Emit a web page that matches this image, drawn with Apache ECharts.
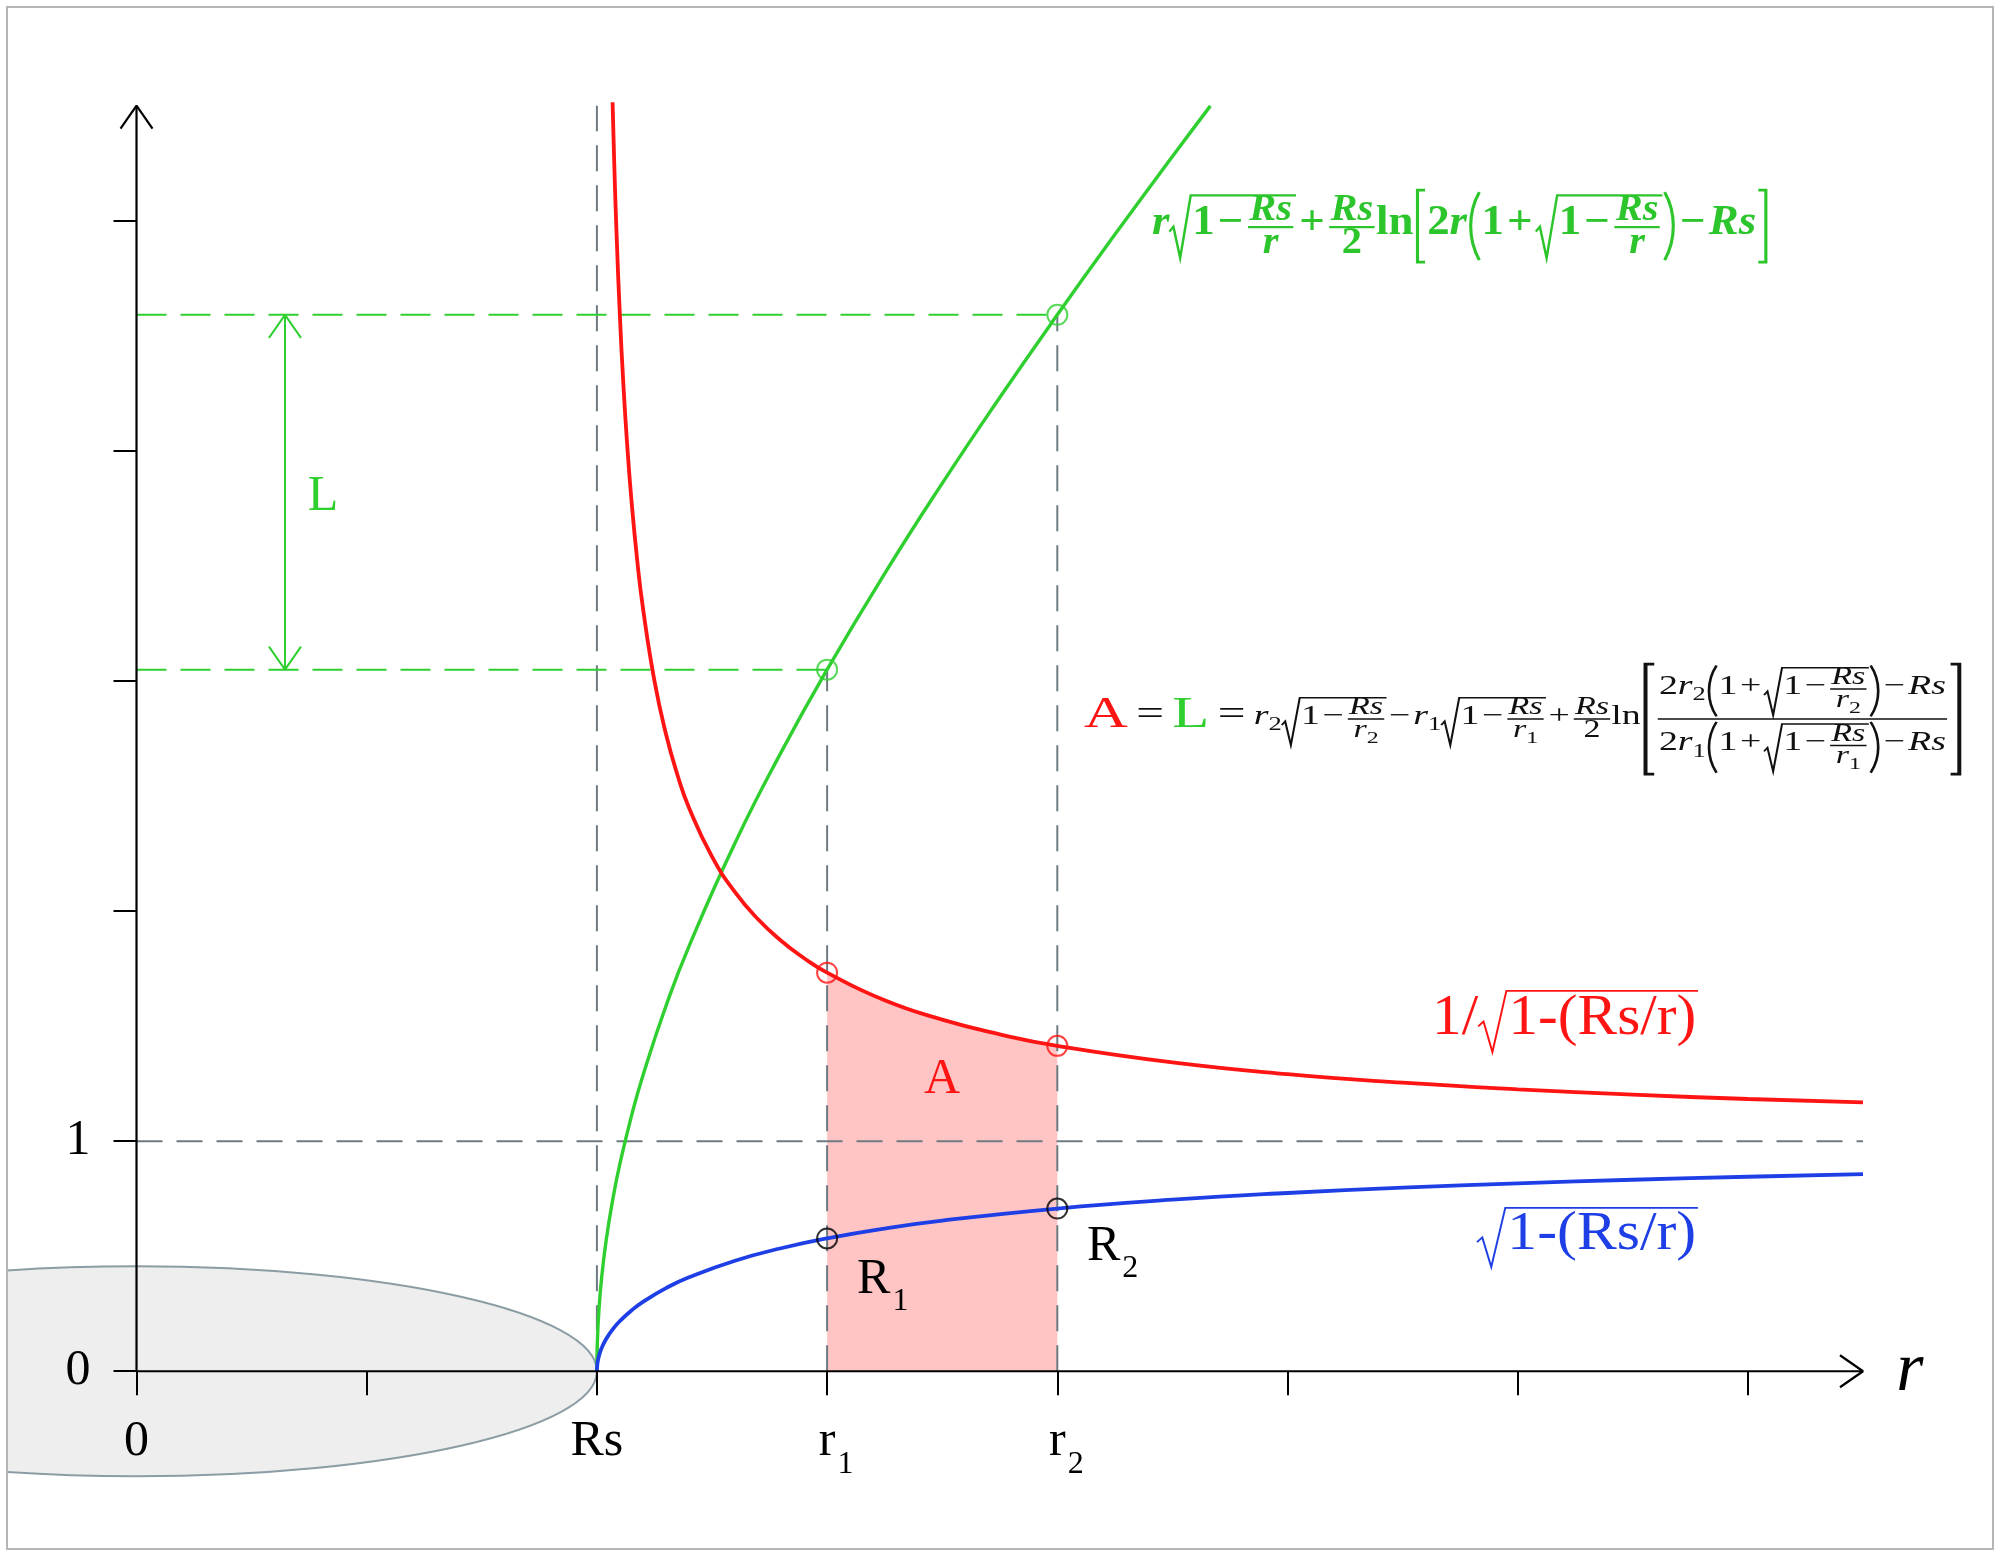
<!DOCTYPE html>
<html><head><meta charset="utf-8"><title>Schwarzschild length</title>
<script src="https://cdn.jsdelivr.net/npm/echarts@6.0.0/dist/echarts.min.js"></script>
<style>html,body{margin:0;padding:0;background:#fff;}#chart{width:2000px;height:1557px;}</style>
</head><body><div id="chart"></div>
<script>
// ---------------- data ----------------
const xTickValues = [0, 1, 2, 3, 4, 5, 6, 7];
const yTickValues = [0, 1, 2, 3, 4, 5];
const xLabelValues = [0, 2, 3, 4];
const xTickLabels = ['0', 'Rs', 'r1', 'r2'];
const yLabelValues = [0, 1];
const yTickLabels = ['0', '1'];

// red curve 1/sqrt(1-Rs/r)
const redR = [2.068,2.075,2.085,2.1,2.115,2.13,2.15,2.175,2.2,2.25,2.3,2.35,2.4,2.5,2.6,2.7,2.8,2.9,3.0,3.25,3.5,3.75,4.0,4.5,5.0,5.5,6.0,6.5,7.0,7.5];
const redY = [5.515,5.260,4.953,4.583,4.289,4.048,3.786,3.525,3.317,3.0,2.769,2.591,2.449,2.236,2.082,1.964,1.871,1.795,1.732,1.612,1.528,1.464,1.414,1.342,1.291,1.254,1.225,1.202,1.183,1.168];
// blue curve sqrt(1-Rs/r)
const blueR = [2.0,2.002,2.008,2.02,2.04,2.07,2.1,2.15,2.2,2.3,2.4,2.6,2.8,3.0,3.25,3.5,4.0,4.5,5.0,5.5,6.0,6.5,7.0,7.5];
const blueY = [0,0.0316,0.0631,0.0995,0.140,0.1839,0.2182,0.2641,0.3015,0.3612,0.4082,0.4804,0.5345,0.5774,0.6202,0.6547,0.7071,0.7454,0.7746,0.7977,0.8165,0.8321,0.8452,0.8563];
// green curve (length)
const greenR = [2.0,2.002,2.008,2.02,2.04,2.07,2.1,2.15,2.2,2.3,2.4,2.6,2.8,3.0,3.25,3.5,3.75,4.0,4.25,4.5,4.665];
const greenY = [0,0.1266,0.2531,0.4007,0.5675,0.7528,0.9017,1.1088,1.2857,1.5873,1.8467,2.2960,2.6895,3.0491,3.4663,3.8584,4.2316,4.5911,4.9395,5.2789,5.499];
// shaded area A between r1 and r2 under the red curve
const areaR = [3.0,3.1,3.2,3.3,3.4,3.5,3.6,3.7,3.8,3.9,4.0];
const areaY = [1.732,1.679,1.633,1.593,1.558,1.528,1.5,1.475,1.453,1.433,1.414];
// marked points at r1, r2
const markR = [3, 4];
const greenMarkY = [3.049, 4.591];
const redMarkY = [1.732, 1.414];
const blueMarkY = [0.577, 0.707];
// guides
const rsValue = 2;
const unitLevel = 1;
const axisEndX = 7.5;
const axisEndY = 5.5;
const lArrowX = 0.645;
// gray body: centre r, centre y, half-width, half-height
const bodyEllipse = [0, 0, 2, 0.456];

// ---------------- styles ----------------
const GREEN = '#2fcf2f', RED = '#ff1414', BLUE = '#1f3fe6', PINK = '#ffc4c4', GRAY = '#6f7b82';
const SERIF = '"Liberation Serif","Times New Roman",serif';

const chart = echarts.init(document.getElementById('chart'), null, {width: 2000, height: 1557});

function pts(xs, ys) { return xs.map((x, i) => [x, ys[i]]); }
function line(data, color, width, dash, z, smooth) {
  const s = {type: 'line', data: data, symbol: 'none', silent: true, z: z, clip: false,
    lineStyle: {color: color, width: width, type: dash || 'solid', cap: 'butt'}, emphasis: {disabled: true}};
  if (smooth) { s.smooth = 0.5; }
  return s;
}
const AB = 0.1, AP = 0.0695; // arrow head back / half-width in data units

const series = [
  { type: 'custom', data: [bodyEllipse], clip: true, z: 1, silent: true,
    renderItem: function (params, api) {
      const c = api.coord([api.value(0), api.value(1)]);
      const s = api.size([api.value(2), api.value(3)]);
      return {type: 'ellipse', shape: {cx: c[0], cy: c[1], rx: s[0], ry: s[1]},
        style: {fill: '#eeeeee', stroke: '#8c9ca4', lineWidth: 2}};
    } },
  Object.assign(line(pts(areaR, areaY), PINK, 0, null, 2, true), {areaStyle: {color: PINK, opacity: 1}}),
  // gray dashed guides
  line([[rsValue, 0], [rsValue, axisEndY]], GRAY, 2, [26, 14], 3),
  line([[0, unitLevel], [axisEndX, unitLevel]], GRAY, 2, [26, 14], 3),
  line([[markR[0], 0], [markR[0], greenMarkY[0]]], GRAY, 2, [26, 14], 3),
  line([[markR[1], 0], [markR[1], greenMarkY[1]]], GRAY, 2, [26, 14], 3),
  // green dashed guides
  line([[0, greenMarkY[0]], [markR[0], greenMarkY[0]]], GREEN, 2, [30, 14], 3),
  line([[0, greenMarkY[1]], [markR[1], greenMarkY[1]]], GREEN, 2, [30, 14], 3),
  // L double arrow
  line([[lArrowX, greenMarkY[0]], [lArrowX, greenMarkY[1]]], GREEN, 2, null, 3),
  line([[lArrowX - AP, greenMarkY[1] - AB], [lArrowX, greenMarkY[1]], [lArrowX + AP, greenMarkY[1] - AB]], GREEN, 2, null, 3),
  line([[lArrowX - AP, greenMarkY[0] + AB], [lArrowX, greenMarkY[0]], [lArrowX + AP, greenMarkY[0] + AB]], GREEN, 2, null, 3),
  // curves
  line(pts(greenR, greenY), GREEN, 3.4, null, 4, true),
  line(pts(redR, redY), RED, 3.8, null, 4, true),
  line(pts(blueR, blueY), BLUE, 3.8, null, 4, true),
  // axes
  line([[0, 0], [axisEndX, 0]], '#000', 2.2, null, 5),
  line([[0, 0], [0, axisEndY]], '#000', 2.2, null, 5),
  line([[axisEndX - AB, AP], [axisEndX, 0], [axisEndX - AB, -AP]], '#000', 2.2, null, 5),
  line([[-AP, axisEndY - AB], [0, axisEndY], [AP, axisEndY - AB]], '#000', 2.2, null, 5),
  // marker circles
  { type: 'scatter', data: pts(markR, greenMarkY), symbol: 'circle', symbolSize: 20, z: 6, silent: true,
    itemStyle: {color: 'rgba(0,0,0,0)', borderColor: GREEN, borderWidth: 2} },
  { type: 'scatter', data: pts(markR, redMarkY), symbol: 'circle', symbolSize: 20, z: 6, silent: true,
    itemStyle: {color: 'rgba(0,0,0,0)', borderColor: RED, borderWidth: 2} },
  { type: 'scatter', data: pts(markR, blueMarkY), symbol: 'circle', symbolSize: 20, z: 6, silent: true,
    itemStyle: {color: 'rgba(0,0,0,0)', borderColor: '#000', borderWidth: 2} }
];

const option = {
  animation: false,
  backgroundColor: '#ffffff',
  grid: {left: 7.6, top: 13.6, width: 1970.5, height: 1495.7, containLabel: false, outerBoundsMode: 'none'},
  xAxis: {
    type: 'value', min: -0.56, max: 8.0, z: 10,
    axisLine: {show: true, onZero: true, lineStyle: {color: 'rgba(0,0,0,0)'}},
    axisTick: {show: true, customValues: xTickValues, length: 24, lineStyle: {color: '#000', width: 2}},
    axisLabel: {show: false},
    splitLine: {show: false}
  },
  yAxis: {
    type: 'value', min: -0.6, max: 5.9, z: 10,
    axisLine: {show: true, onZero: true, lineStyle: {color: 'rgba(0,0,0,0)'}},
    axisTick: {show: true, customValues: yTickValues, length: 23, lineStyle: {color: '#000', width: 2}},
    axisLabel: {show: false},
    splitLine: {show: false}
  },
  series: series
};
chart.setOption(option);

// ---------------- tiny math layout for the formulas ----------------
const mctx = document.createElement('canvas').getContext('2d');
function measureW(text, font) { mctx.font = font; return mctx.measureText(text).width; }
function T(s, o) { return Object.assign({k: 't', s: s}, o || {}); }
function SB(base, sub) { return {k: 'sb', base: base, sub: sub}; }
function FR(num, den, sc) { return {k: 'fr', num: num, den: den, sc: sc == null ? 0.9 : sc}; }
function SQ(body, o) { return Object.assign({k: 'sq', body: body}, o || {}); }
function DL(l, r, body, o) { return Object.assign({k: 'dl', l: l, r: r, body: body}, o || {}); }
function SP(w) { return {k: 'sp', w: w}; }

let WEIGHT = '';
function lay(node, fs, col) {
  if (Array.isArray(node)) {
    const items = node.map(n => lay(n, fs, col));
    let w = 0, a = 0, d = 0;
    items.forEach(b => { w += b.w; a = Math.max(a, b.a); d = Math.max(d, b.d); });
    return {w, a, d, draw(x, ay, out) { let cx = x; items.forEach(b => { b.draw(cx, ay, out); cx += b.w; }); }};
  }
  if (node.k === 't') {
    const f = fs * (node.sc || 1);
    const font = (node.it ? 'italic ' : '') + (node.wt != null ? node.wt : WEIGHT) + ' ' + f + 'px ' + SERIF;
    const pad = (node.pad || 0) * f;
    const w = measureW(node.s, font) + 2 * pad;
    const c = node.col || col;
    return {w, a: (node.a != null ? node.a : 0.43) * f, d: (node.d != null ? node.d : 0.25) * f,
      draw(x, ay, out) {
        out.push({type: 'text', x: x + pad, y: ay - 0.09 * f, silent: true,
          style: {text: node.s, font: font, fill: c, align: 'left', verticalAlign: 'middle'}});
      }};
  }
  if (node.k === 'sp') return {w: node.w * fs, a: 0, d: 0, draw() {}};
  if (node.k === 'sb') {
    const b = lay(node.base, fs, col), s = lay(node.sub, fs * 0.7, col), sh = 0.28 * fs;
    return {w: b.w + s.w, a: Math.max(b.a, s.a - sh), d: Math.max(b.d, s.d + sh),
      draw(x, ay, out) { b.draw(x, ay, out); s.draw(x + b.w, ay + sh, out); }};
  }
  if (node.k === 'fr') {
    const n = lay(node.num, fs * node.sc, col), dn = lay(node.den, fs * node.sc, col);
    const t = 0.055 * fs, g = 0.07 * fs, pad = 0.06 * fs;
    const w = Math.max(n.w, dn.w) + 2 * pad;
    return {w, a: t / 2 + g + n.d + n.a, d: t / 2 + g + dn.a + dn.d,
      draw(x, ay, out) {
        n.draw(x + (w - n.w) / 2, ay - t / 2 - g - n.d, out);
        dn.draw(x + (w - dn.w) / 2, ay + t / 2 + g + dn.a, out);
        out.push({type: 'rect', silent: true, shape: {x: x + pad * 0.5, y: ay - t / 2, width: w - pad, height: t}, style: {fill: col}});
      }};
  }
  if (node.k === 'sq') {
    const b = lay(node.body, fs, col);
    const R = 0.5 * fs, pt = 0.09 * fs, lw = (node.lw || 1) * 0.055 * fs;
    const a = b.a + pt, d = b.d + 0.04 * fs, w = R + b.w + 0.04 * fs;
    return {w, a, d, draw(x, ay, out) {
      const top = ay - a + lw / 2, bot = ay + d, H = bot - top;
      out.push({type: 'polyline', silent: true,
        shape: {points: [[x, bot - 0.42 * H], [x + 0.18 * R, bot - 0.5 * H], [x + 0.48 * R, bot], [x + 0.95 * R, top], [x + w, top]]},
        style: {stroke: col, lineWidth: lw, fill: null, lineJoin: 'miter'}});
      b.draw(x + R + 0.01 * fs, ay, out);
    }};
  }
  if (node.k === 'dl') {
    const b = lay(node.body, fs, col);
    const ext = 0.05 * fs, a = b.a + ext, d = b.d + ext, H = a + d;
    const isB = node.l === '[';
    const dw = (isB ? 0.22 : 0.24) * fs + 0.05 * H;
    const lw = (node.lw || 1) * 0.07 * fs;
    return {w: 2 * dw + b.w, a, d, draw(x, ay, out) {
      const top = ay - a, bot = ay + d;
      const st = {stroke: col, lineWidth: lw, fill: null};
      const xr = x + dw + b.w;
      if (isB) {
        out.push({type: 'polyline', silent: true, shape: {points: [[x + dw * 0.85, top], [x + dw * 0.3, top], [x + dw * 0.3, bot], [x + dw * 0.85, bot]]}, style: st});
        out.push({type: 'polyline', silent: true, shape: {points: [[xr + dw * 0.15, top], [xr + dw * 0.7, top], [xr + dw * 0.7, bot], [xr + dw * 0.15, bot]]}, style: st});
      } else {
        out.push({type: 'bezierCurve', silent: true, shape: {x1: x + dw * 0.85, y1: top, cpx1: x + dw * 0.05, cpy1: top + H * 0.3, cpx2: x + dw * 0.05, cpy2: bot - H * 0.3, x2: x + dw * 0.85, y2: bot}, style: st});
        out.push({type: 'bezierCurve', silent: true, shape: {x1: xr + dw * 0.15, y1: top, cpx1: xr + dw * 0.95, cpy1: top + H * 0.3, cpx2: xr + dw * 0.95, cpy2: bot - H * 0.3, x2: xr + dw * 0.15, y2: bot}, style: st});
      }
      b.draw(x + dw, ay, out);
    }};
  }
  return {w: 0, a: 0, d: 0, draw() {}};
}

function px(x, y) { return chart.convertToPixel({gridIndex: 0}, [x, y]); }
function fitGroup(nodes, fs, col, box, weight) {
  WEIGHT = weight || '';
  const p0 = px(box[0], box[1]), p1 = px(box[2], box[3]);
  const b = lay(nodes, fs, col), out = [];
  b.draw(0, b.a, out);
  return {type: 'group', x: p0[0], y: p0[1], z: 50, silent: true,
    scaleX: (p1[0] - p0[0]) / b.w, scaleY: (p1[1] - p0[1]) / (b.a + b.d), children: out};
}

const IT = {it: true};
const bin = s => T(s, {pad: 0.07});
const rsFrac = den => FR([T('Rs', IT)], den);
const rsub = n => SB(T('r', IT), T(n));
const sqrt1m = den => SQ([T('1'), bin('\u2212'), rsFrac(den)]);

const greenFormula = [T('r', IT), sqrt1m([T('r', IT)]), bin('+'), FR([T('Rs', IT)], [T('2')]), T('ln'),
  DL('[', ']', [T('2'), T('r', IT), DL('(', ')', [T('1'), bin('+'), sqrt1m([T('r', IT)])]), bin('\u2212'), T('Rs', IT)])];

const bigPart = n => [T('2'), rsub(n), DL('(', ')', [T('1'), bin('+'), sqrt1m([rsub(n)])]), bin('\u2212'), T('Rs', IT)];
const blackFormula = [T('A', {col: RED, sc: 1.6}), SP(0.22), T('=', {sc: 1.3}), SP(0.22), T('L', {col: GREEN, sc: 1.6}), SP(0.22), T('=', {sc: 1.3}), SP(0.22),
  rsub('2'), sqrt1m([rsub('2')]), bin('\u2212'), rsub('1'), sqrt1m([rsub('1')]), bin('+'), FR([T('Rs', IT)], [T('2')]), T('ln'),
  DL('[', ']', [FR(bigPart('2'), bigPart('1'), 1)], {lw: 1.5})];

const PT = {a: 0.5, d: 0.45};
const redLabel = [T('1'), T('/', PT), SQ([T('1-(Rs/r)', PT)], {lw: 0.6})];
const blueLabel = [SQ([T('1-(Rs/r)', PT)], {lw: 0.6})];

function txt(x, y, text, font, fill, align, valign, rich) {
  const p = px(x, y);
  const st = {text: text, fill: fill, align: align || 'center', verticalAlign: valign || 'middle'};
  if (font) st.font = font;
  if (rich) st.rich = rich;
  return {type: 'text', x: p[0], y: p[1], z: 50, silent: true, style: st};
}
const Rrich = {
  m: {fontSize: 50, fontFamily: SERIF, fill: '#000', verticalAlign: 'top'},
  s: {fontSize: 32, fontFamily: SERIF, fill: '#000', verticalAlign: 'top', padding: [31, 0, 0, 2]}
};

// axis tick labels (placed through the axis scale)
const labelEls = [];
const xLabelTopY = -0.2, yLabelX = -0.2;
xLabelValues.forEach(function (v, i) {
  const t = xTickLabels[i];
  const m = /^([a-zA-Z])(\d)$/.exec(t);
  if (m) {
    const w = measureW(m[1], '50px ' + SERIF);
    const p = px(v, 0);
    const el = txt(v, xLabelTopY, '{m|' + m[1] + '}{s|' + m[2] + '}', null, '#000', 'left', 'top', Rrich);
    el.x = p[0] - w / 2;
    labelEls.push(el);
  } else {
    labelEls.push(txt(v, xLabelTopY, '{m|' + t + '}', null, '#000', 'center', 'top', Rrich));
  }
});
yLabelValues.forEach(function (v, i) {
  labelEls.push(txt(yLabelX, v, yTickLabels[i], '50px ' + SERIF, '#000', 'right', 'middle'));
});

chart.setOption({
  graphic: {elements: [
    {type: 'rect', z: 60, silent: true, shape: {x: 7, y: 7, width: 1986, height: 1542}, style: {fill: null, stroke: '#b5b5b5', lineWidth: 2}},
    fitGroup(greenFormula, 34, '#2cc52c', [4.411, 5.133, 7.096, 4.820], 'bold'),
    fitGroup(blackFormula, 30, '#111', [4.116, 3.073, 7.939, 2.595], ''),
    fitGroup(redLabel, 40, RED, [5.628, 1.657, 6.783, 1.387], ''),
    fitGroup(blueLabel, 40, BLUE, [5.823, 0.714, 6.783, 0.453], ''),
    txt(0.810, 3.799, 'L', '50px ' + SERIF, GREEN),
    txt(3.499, 1.266, 'A', '50px ' + SERIF, RED),
    txt(7.704, 0.0, 'r', 'italic 70px ' + SERIF, '#000'),
    txt(3.130, 0.505, '{m|R}{s|1}', null, '#000', 'left', 'top', Rrich),
    txt(4.129, 0.649, '{m|R}{s|2}', null, '#000', 'left', 'top', Rrich)
  ].concat(labelEls)}
});
</script>
</body></html>
